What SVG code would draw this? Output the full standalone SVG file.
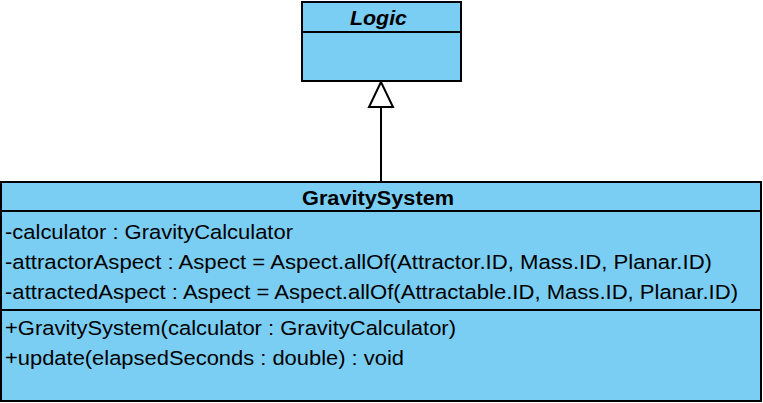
<svg xmlns="http://www.w3.org/2000/svg" width="763" height="403" viewBox="0 0 763 403">
<style>
.box{fill:#7acef4;stroke:#000;stroke-width:2}
.div{stroke:#000;stroke-width:2;fill:none}
.t{font-family:"Liberation Sans",Arial,sans-serif;font-size:20.5px;fill:#000}
.h{font-family:"Liberation Sans",Arial,sans-serif;font-size:20px;font-weight:bold;fill:#000}
</style>
<rect width="763" height="403" fill="#fff"/>
<g id="connectors">
<line x1="381" y1="107" x2="381" y2="182" stroke="#000" stroke-width="2"/>
<polygon points="381,82 369,107 393,107" fill="#fff" stroke="#000" stroke-width="2"/>
</g>
<g id="Logic">
<rect class="box" x="302" y="2" width="159" height="79"/>
<line class="div" x1="302" y1="32" x2="461" y2="32"/>
<text class="h" x="350" y="25" font-style="italic" font-size="21px" textLength="57" lengthAdjust="spacingAndGlyphs">Logic</text>
</g>
<g id="GravitySystem">
<rect class="box" x="1" y="182" width="760" height="219"/>
<line class="div" x1="1" y1="211" x2="761" y2="211"/>
<line class="div" x1="1" y1="310" x2="761" y2="310"/>
<text class="h" x="302" y="205" textLength="152" lengthAdjust="spacingAndGlyphs">GravitySystem</text>
<text class="t" x="5" y="239" textLength="288" lengthAdjust="spacingAndGlyphs">-calculator : GravityCalculator</text>
<text class="t" x="5" y="269" textLength="707" lengthAdjust="spacingAndGlyphs">-attractorAspect : Aspect = Aspect.allOf(Attractor.ID, Mass.ID, Planar.ID)</text>
<text class="t" x="5" y="299" textLength="733" lengthAdjust="spacingAndGlyphs">-attractedAspect : Aspect = Aspect.allOf(Attractable.ID, Mass.ID, Planar.ID)</text>
<text class="t" x="5" y="335" textLength="451" lengthAdjust="spacingAndGlyphs">+GravitySystem(calculator : GravityCalculator)</text>
<text class="t" x="5" y="365" textLength="399" lengthAdjust="spacingAndGlyphs">+update(elapsedSeconds : double) : void</text>
</g>
</svg>
